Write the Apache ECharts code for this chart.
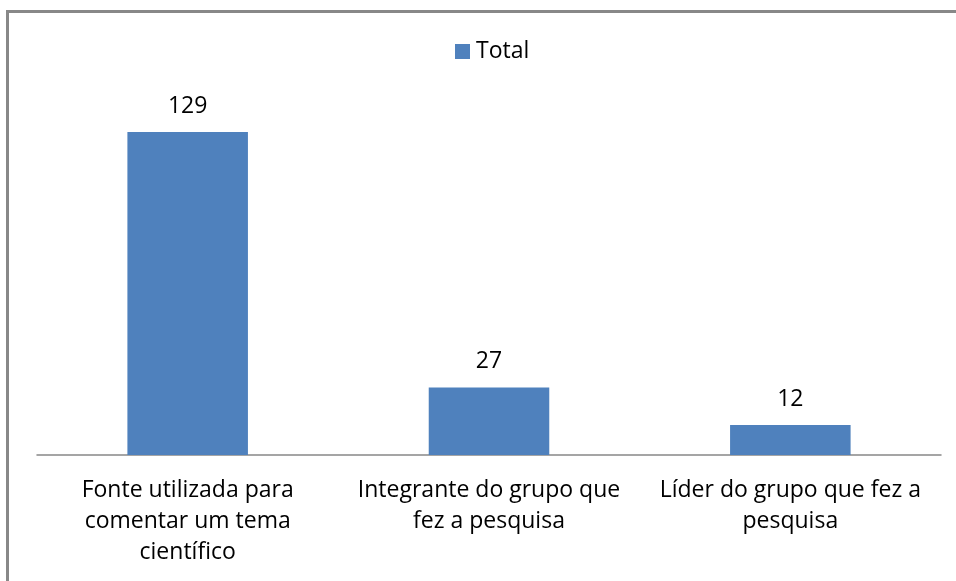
<!DOCTYPE html>
<html><head><meta charset="utf-8">
<script src="https://cdn.jsdelivr.net/npm/echarts@6/dist/echarts.min.js"></script>
<style>html,body{margin:0;padding:0;background:#fff}#c{width:956px;height:581px}</style>
</head><body><div id="c"></div>
<script>
const categories = ["Fonte utilizada para\ncomentar um tema\ncientífico", "Integrante do grupo que\nfez a pesquisa", "Líder do grupo que fez a\npesquisa"];
const seriesName = "Total";
const values = [129, 27, 12];

const chart = echarts.init(document.getElementById('c'));
const font = '"Open Sans", sans-serif';
chart.setOption({
  animation: false,
  graphic: [
    {type:'line', shape:{x1:7, y1:11.5, x2:956, y2:11.5}, style:{stroke:'#888', lineWidth:3}},
    {type:'line', shape:{x1:7.5, y1:10, x2:7.5, y2:581}, style:{stroke:'#888', lineWidth:3}}
  ],
  legend: {top: 40, left: 455, padding: 0, itemWidth: 15, itemHeight: 15, itemGap: 6, icon: 'rect',
    textStyle:{fontFamily:font, fontSize:23, color:'#000', padding:[0,0,0,1]}, data:[seriesName]},
  grid: {left: 37, right: 15, top: 132, bottom: 126},
  xAxis: {type:'category', data: categories,
    axisLine:{lineStyle:{color:'#888', width:1.5}}, axisTick:{show:false},
    axisLabel:{fontFamily:font, fontSize:23, color:'#000', lineHeight:31, margin:20, interval:0}},
  yAxis: {type:'value', min:0, max:129, show:false, splitLine:{show:false}},
  series: [{name: seriesName, type:'bar', data: values, barWidth: '40%',
    itemStyle:{color:'#4f81bd'},
    label:{show:true, position:'top', distance:14, fontFamily:font, fontSize:23, color:'#000'}}]
});
</script></body></html>
